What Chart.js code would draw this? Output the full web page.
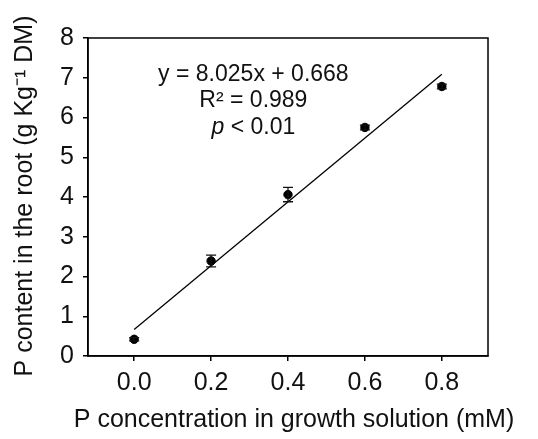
<!DOCTYPE html>
<html>
<head>
<meta charset="utf-8">
<script src="https://cdn.jsdelivr.net/npm/chart.js@4.4.1/dist/chart.umd.min.js"></script>
<style>
  html, body { margin: 0; padding: 0; background: #fff; }
  #wrap { width: 538px; height: 439px; }
</style>
</head>
<body>
<div id="wrap"><canvas id="chart"></canvas></div>
<script>
const concX = [0.0, 0.2, 0.4, 0.6, 0.8];
const rootP = [0.42, 2.39, 4.06, 5.75, 6.78];
const rootErr = [0.04, 0.15, 0.18, 0.06, 0.06];

// fitted line end points, y = 8.025x + 0.668
const fitX = [0.0, 0.8];
const fitY = [0.668, 7.088];

const xTicks = [0.0, 0.2, 0.4, 0.6, 0.8];
const yTicks = [0, 1, 2, 3, 4, 5, 6, 7, 8];

const xTitle = 'P concentration in growth solution (mM)';
const yTitle = 'P content in the root (g Kg⁻¹ DM)';

const fontFamily = '"Liberation Sans", Arial, sans-serif';
const ink = '#111';

// error bars drawn through the scales
const errorBars = {
  id: 'errorBars',
  afterDatasetsDraw(chart) {
    const { ctx, scales: { x, y } } = chart;
    ctx.save();
    ctx.strokeStyle = ink;
    ctx.lineWidth = 1.3;
    concX.forEach((cx, i) => {
      const px = x.getPixelForValue(cx);
      const top = y.getPixelForValue(rootP[i] + rootErr[i]);
      const bot = y.getPixelForValue(rootP[i] - rootErr[i]);
      ctx.beginPath();
      ctx.moveTo(px, top); ctx.lineTo(px, bot);
      ctx.moveTo(px - 5, top); ctx.lineTo(px + 5, top);
      ctx.moveTo(px - 5, bot); ctx.lineTo(px + 5, bot);
      ctx.stroke();
    });
    ctx.restore();
  }
};

// box around the plot area
const frame = {
  id: 'frame',
  afterDraw(chart) {
    const { ctx, chartArea: a } = chart;
    ctx.save();
    ctx.strokeStyle = '#000';
    ctx.lineWidth = 1.5;
    ctx.strokeRect(a.left, a.top, a.right - a.left, a.bottom - a.top);
    ctx.restore();
  }
};

// axis titles, drawn by hand so the long x title is not squeezed to the axis width
const axisTitles = {
  id: 'axisTitles',
  afterDraw(chart) {
    const { ctx, chartArea: a } = chart;
    ctx.save();
    ctx.fillStyle = ink;
    ctx.font = '25px ' + fontFamily;
    ctx.textAlign = 'center';
    ctx.textBaseline = 'alphabetic';
    ctx.fillText(xTitle, (a.left + a.right) / 2 + 6, 427);
    ctx.translate(32, (a.top + a.bottom) / 2 - 1);
    ctx.rotate(-Math.PI / 2);
    ctx.fillText(yTitle, 0, 0);
    ctx.restore();
  }
};

// regression text
const equation = {
  id: 'equation',
  afterDraw(chart) {
    const { ctx, scales: { x, y } } = chart;
    const cx = x.getPixelForValue(0.31);
    const size = 23;
    ctx.save();
    ctx.fillStyle = ink;
    ctx.textBaseline = 'alphabetic';
    ctx.textAlign = 'center';
    ctx.font = size + 'px ' + fontFamily;
    ctx.fillText('y = 8.025x + 0.668', cx, y.getPixelForValue(6.91));
    ctx.fillText('R² = 0.989', cx, y.getPixelForValue(6.26));
    // italic p followed by the rest
    const rest = ' < 0.01';
    ctx.font = 'italic ' + size + 'px ' + fontFamily;
    const wp = ctx.measureText('p').width;
    ctx.font = size + 'px ' + fontFamily;
    const wr = ctx.measureText(rest).width;
    const start = cx - (wp + wr) / 2;
    const py = y.getPixelForValue(5.59);
    ctx.textAlign = 'left';
    ctx.font = 'italic ' + size + 'px ' + fontFamily;
    ctx.fillText('p', start, py);
    ctx.font = size + 'px ' + fontFamily;
    ctx.fillText(rest, start + wp, py);
    ctx.restore();
  }
};

new Chart(document.getElementById('chart'), {
  type: 'scatter',
  data: {
    datasets: [
      {
        label: 'fit',
        type: 'line',
        data: fitX.map((v, i) => ({ x: v, y: fitY[i] })),
        borderColor: '#000',
        borderWidth: 1.3,
        pointRadius: 0,
        fill: false
      },
      {
        label: 'root P',
        data: concX.map((v, i) => ({ x: v, y: rootP[i] })),
        backgroundColor: '#000',
        borderColor: '#000',
        pointRadius: 4.2,
        pointHoverRadius: 4.2
      }
    ]
  },
  options: {
    responsive: true,
    maintainAspectRatio: false,
    animation: false,
    events: [],
    layout: { padding: { left: 0, right: 50, top: 38, bottom: 0 } },
    plugins: {
      legend: { display: false },
      tooltip: { enabled: false }
    },
    scales: {
      x: {
        type: 'linear',
        min: -0.12,
        max: 0.92,
        afterBuildTicks: (s) => { s.ticks = xTicks.map(v => ({ value: v })); },
        afterFit: (s) => { s.height = 83; },
        grid: { drawOnChartArea: false, drawTicks: true, tickLength: 5, color: '#000', lineWidth: 1.5 },
        border: { display: true, color: '#000', width: 1.5 },
        ticks: {
          color: ink,
          padding: 7,
          font: { family: fontFamily, size: 25 },
          callback: (v) => v.toFixed(1)
        },
        title: { display: false }
      },
      y: {
        type: 'linear',
        min: 0,
        max: 8,
        afterBuildTicks: (s) => { s.ticks = yTicks.map(v => ({ value: v })); },
        afterFit: (s) => { s.width = 88; },
        grid: { drawOnChartArea: false, drawTicks: true, tickLength: 5, color: '#000', lineWidth: 1.5 },
        border: { display: true, color: '#000', width: 1.5 },
        ticks: {
          color: ink,
          padding: 9,
          font: { family: fontFamily, size: 25 }
        },
        title: { display: false }
      }
    }
  },
  plugins: [errorBars, frame, axisTitles, equation]
});
</script>
</body>
</html>
